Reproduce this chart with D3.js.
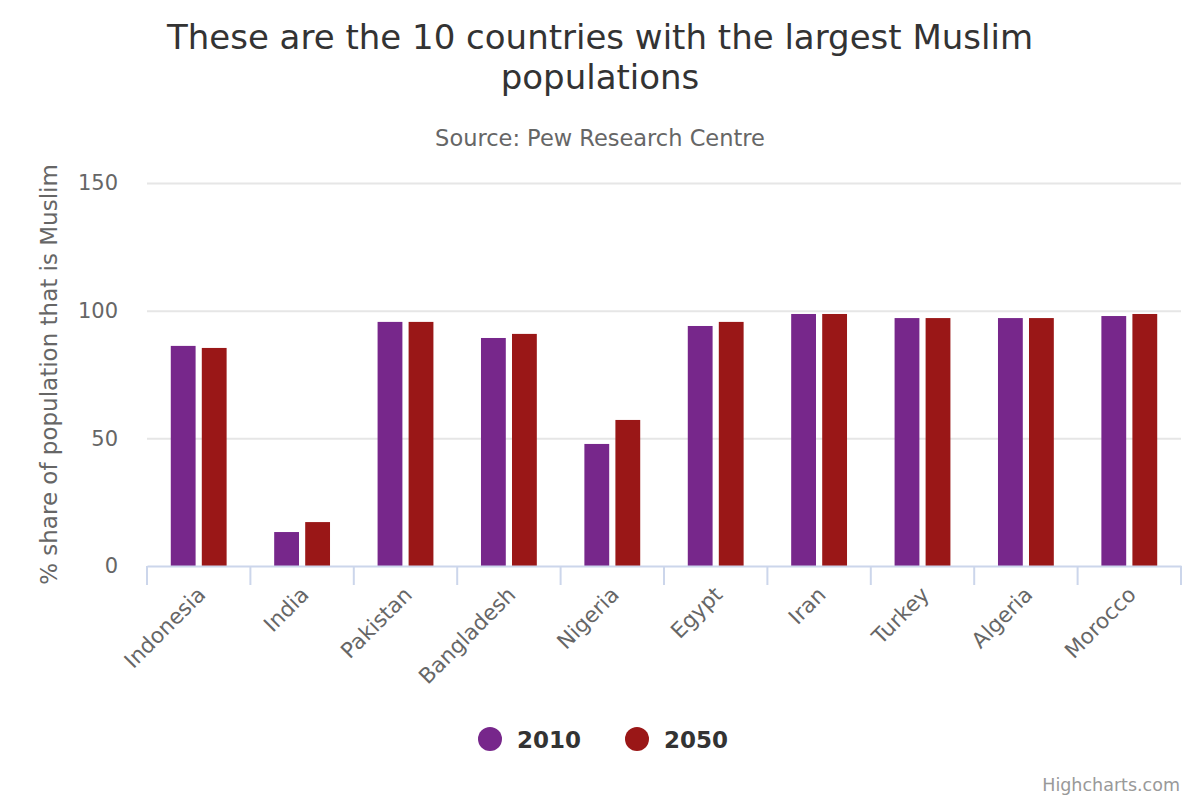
<!DOCTYPE html>
<html><head><meta charset="utf-8">
<script src="https://cdn.jsdelivr.net/npm/d3@7/dist/d3.min.js"></script>
<style>body{margin:0;background:#fff;} svg{display:block;font-family:"DejaVu Sans",sans-serif;}</style>
</head><body>
<svg id="c" width="1200" height="800"></svg>
<script>
const categories = ["Indonesia","India","Pakistan","Bangladesh","Nigeria","Egypt","Iran","Turkey","Algeria","Morocco"];
const seriesNames = ["2010","2050"];
const values2010 = [86.2,13.3,95.6,89.3,47.8,94.0,98.7,97.1,97.1,97.9];
const values2050 = [85.4,17.2,95.6,90.9,57.2,95.6,98.7,97.1,97.1,98.7];
const colors = ["#77278b","#9a1717"];
const yTicks = [0,50,100,150];

(function(){
const svg = d3.select("#c");
const pL = 147, pR = 1181, pT = 183, pB = 566;
const x = d3.scaleBand().domain(categories).range([pL,pR]).paddingInner(0).paddingOuter(0);
const y = d3.scaleLinear().domain([0,150]).range([pB,pT]);

// title
svg.append("text").attr("x",600).attr("y",49).attr("text-anchor","middle").attr("fill","#333").attr("font-size",34).text("These are the 10 countries with the largest Muslim");
svg.append("text").attr("x",600).attr("y",89).attr("text-anchor","middle").attr("fill","#333").attr("font-size",34).text("populations");
svg.append("text").attr("x",600).attr("y",146).attr("text-anchor","middle").attr("fill","#666").attr("font-size",22.5).text("Source: Pew Research Centre");

// grid
const yAxis = d3.axisLeft(y).tickValues(yTicks).tickSize(-(pR-pL)).tickPadding(29);
const gy = svg.append("g").attr("transform",`translate(${pL},0)`).call(yAxis);
gy.select(".domain").remove();
gy.selectAll(".tick line").attr("stroke","#e6e6e6").attr("stroke-width",2);
gy.selectAll(".tick text").attr("fill","#666").attr("font-size",21).attr("font-family","DejaVu Sans");
gy.selectAll(".tick").filter(d=>d===0).select("line").remove();

// bars
const groupW = x.bandwidth()*0.6;
const slot = groupW/2;
const barW = slot*0.8;
const data = [];
categories.forEach((c,i)=>{ data.push({c,s:0,v:values2010[i]}); data.push({c,s:1,v:values2050[i]}); });
svg.append("g").selectAll("rect").data(data).join("rect")
  .attr("x",d=>x(d.c)+x.bandwidth()*0.2+d.s*slot+slot*0.1)
  .attr("width",barW)
  .attr("y",d=>y(d.v))
  .attr("height",d=>y(0)-y(d.v))
  .attr("fill",d=>colors[d.s]);

// x axis
const xAxis = d3.axisBottom(x).tickSize(0).tickFormat(d=>d);
const gx = svg.append("g").attr("transform",`translate(0,${pB})`).call(xAxis);
gx.select(".domain").attr("stroke","#ccd6eb").attr("stroke-width",2);
gx.selectAll(".tick line").remove();
const tickPos = d3.range(categories.length+1).map(i=>pL+i*x.bandwidth());
gx.selectAll("line.t").data(tickPos).join("line").attr("class","t")
  .attr("x1",d=>d).attr("x2",d=>d).attr("y1",0).attr("y2",19).attr("stroke","#ccd6eb").attr("stroke-width",2);
gx.selectAll(".tick text").attr("fill","#666").attr("font-size",21.5).attr("font-family","DejaVu Sans")
  .attr("text-anchor","end").attr("dy",null).attr("y",0)
  .attr("transform","translate(8,30) rotate(-45)");

// y axis title
svg.append("text").attr("transform",`translate(57,${(pT+pB)/2}) rotate(-90)`).attr("text-anchor","middle")
  .attr("fill","#666").attr("font-size",23).text("% share of population that is Muslim");

// legend
const lg = svg.append("g");
const legX = [490,637];
seriesNames.forEach((s,i)=>{
  lg.append("circle").attr("cx",legX[i]).attr("cy",739).attr("r",12).attr("fill",colors[i]);
  lg.append("text").attr("x",legX[i]+27).attr("y",748).attr("font-size",23).attr("font-weight","bold").attr("fill","#333").text(s);
});

// credits
svg.append("text").attr("x",1180).attr("y",791).attr("text-anchor","end").attr("font-size",17.5).attr("fill","#999").text("Highcharts.com");
})();
</script>
</body></html>
